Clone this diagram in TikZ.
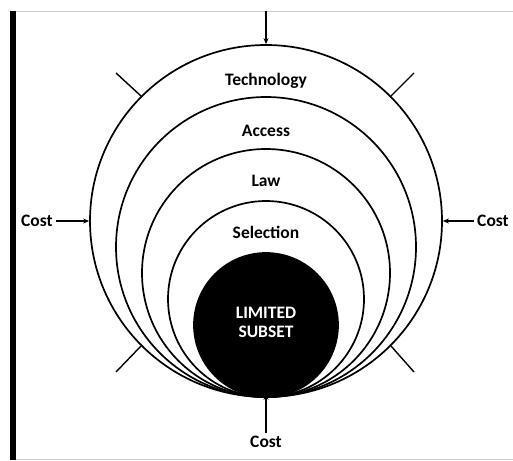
\documentclass[tikz,border=0pt]{standalone}
\usepackage{fontspec}
\setmainfont{Carlito}
\usetikzlibrary{arrows.meta}
\begin{document}
\begin{tikzpicture}[x=1pt,y=-1pt,
	ring/.style={draw,circle,line width=1.7pt,inner sep=0pt},
	lbl/.style={font=\fontsize{17.5}{19}\selectfont\bfseries},
	push/.style={line width=1.4pt,-{Stealth[length=6pt,width=5pt]}},
	tick/.style={line width=1.4pt}]
	\useasboundingbox(0,0)rectangle(513,460);
	\draw[line width=6pt](12.5,11)--(12.5,460);
	\draw[gray!40](16,11)--(513,11);
	\draw[gray!40](16,459)--(513,459);
	\node[ring,minimum size=352pt](tech)at(266,221){};
	\node[ring,minimum size=300pt](access)at(266,247){};
	\node[ring,minimum size=248pt](law)at(266,273){};
	\node[ring,minimum size=196pt](select)at(266,299){};
	\node[ring,fill=black,minimum size=144pt](subset)at(266,325){};
	\node[lbl](techlbl)at(266,81){Technology};
	\node[lbl](accesslbl)at(266,131){Access};
	\node[lbl](lawlbl)at(266,181){Law};
	\node[lbl](selectlbl)at(266,232){Selection};
	\node[lbl,white,align=center](subsetlbl)at(266,322){LIMITED\\SUBSET};
	\node[lbl](costN)at(266,442){Cost};
	\node[lbl](costW)at(37,221){Cost};
	\node[lbl](costE)at(493,221){Cost};
	\coordinate(topend)at(266,11);
	\coordinate(ulend)at(116,73);
	\coordinate(urend)at(414,73);
	\coordinate(llend)at(116,372);
	\coordinate(lrend)at(414,372);
	\draw[push](topend)--(tech.north);
	\draw[push](costN.north)--([yshift=4pt]subset.south);
	\draw[push](costW.east)--(tech.west);
	\draw[push](costE.west)--(tech.east);
	\draw[tick](ulend)--(tech.north west);
	\draw[tick](urend)--(tech.north east);
	\draw[tick](llend)--(tech.south west);
	\draw[tick](lrend)--(tech.south east);
\end{tikzpicture}
\end{document}
